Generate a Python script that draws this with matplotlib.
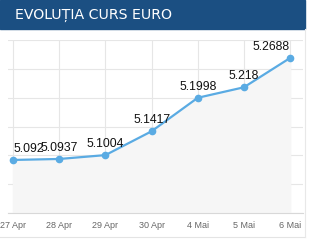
import matplotlib
matplotlib.use("Agg")
import matplotlib.pyplot as plt
from matplotlib.patches import Rectangle
from matplotlib.lines import Line2D

# data
dates = ["27 Apr", "28 Apr", "29 Apr", "30 Apr", "4 Mai", "5 Mai", "6 Mai"]
rates = [5.092, 5.0937, 5.1004, 5.1417, 5.1998, 5.218, 5.2688]
rate_labels = ["5.092", "5.0937", "5.1004", "5.1417", "5.1998", "5.218", "5.2688"]

LINE_BLUE = "#5aabe3"
HEADER_BLUE = "#1b4f82"

fig = plt.figure(figsize=(3.09, 2.44), dpi=100)
fig.patch.set_facecolor("white")

# header bar
fig.add_artist(Rectangle((0, 1 - 29 / 244), 305 / 309, 29 / 244,
                         transform=fig.transFigure, color=HEADER_BLUE, zorder=0))
fig.text(15 / 309, 1 - 15 / 244, "EVOLUȚIA CURS EURO", color="white",
         fontsize=10.2, family="Liberation Sans Narrow", va="center", ha="left")

# box lines around the chart
fig.add_artist(Line2D([0, 305 / 309], [1 - 237 / 244] * 2, transform=fig.transFigure,
                      color="#e4e4e4", lw=0.8))
fig.add_artist(Line2D([305 / 309] * 2, [1 - 237 / 244, 1 - 29 / 244],
                      transform=fig.transFigure, color="#e8e8e8", lw=0.8))

ax = fig.add_axes([8 / 309, 31 / 244, 295 / 309, 173 / 244])
x = list(range(len(dates)))

ax.fill_between(x, rates, 5.0, color="#f6f6f6", zorder=1)
ax.plot(x, rates, color=LINE_BLUE, lw=1.6, marker="o", markersize=4.5, zorder=3)

for i, (v, lab) in enumerate(zip(rates, rate_labels)):
    ha = "center"
    if i == 0:
        ha = "left"
    elif i == len(rates) - 1:
        ha = "right"
    ax.annotate(lab, (i, v), xytext=(0, 3.5), textcoords="offset points",
                ha=ha, va="bottom", fontsize=8.8, color="#111111",
                family="Liberation Sans", zorder=4)

ax.set_xlim(-0.11, 6.28)
ax.set_ylim(5.0, 5.3)
ax.set_xticks(x)
ax.set_xticklabels(dates, fontsize=6.5, color="#666666", family="Liberation Sans")
ax.set_yticks([5.0, 5.05, 5.1, 5.15, 5.2, 5.25, 5.3])
ax.set_yticklabels([])
ax.tick_params(length=0, pad=6)
ax.grid(True, color="#e6e6e6", lw=0.8)
ax.set_axisbelow(True)
for side in ["top", "right", "left"]:
    ax.spines[side].set_visible(False)
ax.spines["bottom"].set_color("#d8d8d8")
ax.spines["bottom"].set_linewidth(0.8)

fig.savefig("out.png", dpi=100)
